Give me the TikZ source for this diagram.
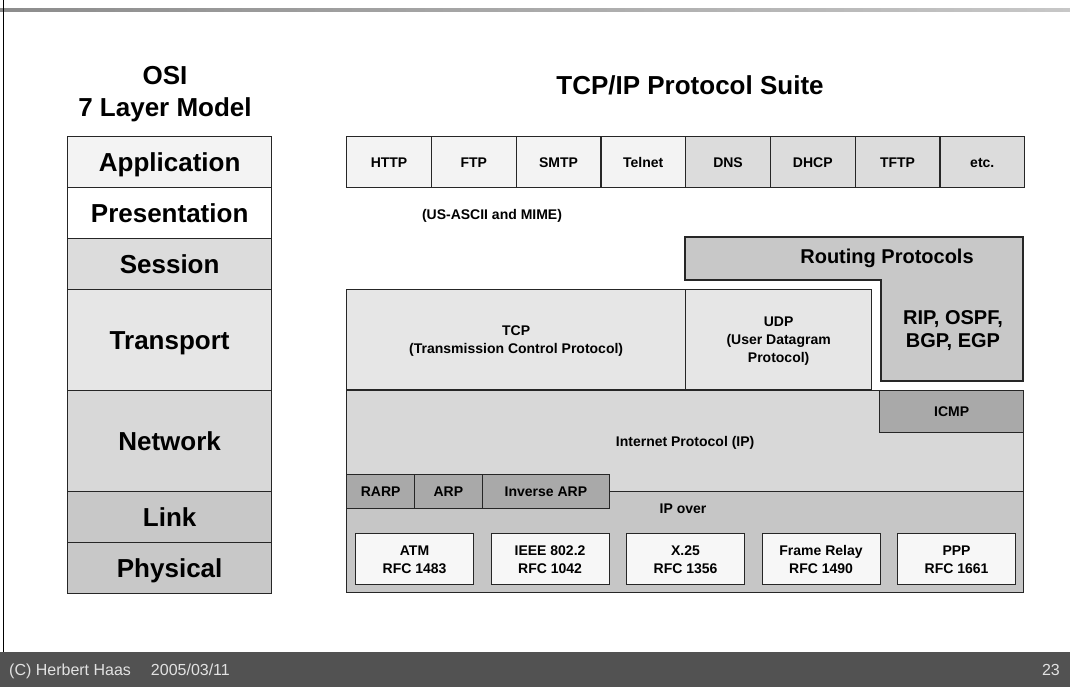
\documentclass[tikz,border=0pt]{standalone}
\usepackage{fontspec}
\setmainfont{Liberation Sans}
\definecolor{edge}{HTML}{262626}
\definecolor{fillA}{HTML}{F3F3F3}
\definecolor{fillS}{HTML}{DCDCDC}
\definecolor{fillT}{HTML}{E6E6E6}
\definecolor{fillN}{HTML}{D8D8D8}
\definecolor{fillL}{HTML}{C8C8C8}
\definecolor{fillR}{HTML}{C6C6C6}
\definecolor{fillD}{HTML}{A9A9A9}
\definecolor{fillW}{HTML}{F7F7F7}
\definecolor{band}{HTML}{525252}
\definecolor{bandtext}{HTML}{E2E2E2}
\newcommand\hdfont{\fontsize{26}{32}\selectfont\bfseries}
\newcommand\rtfont{\fontsize{20}{24}\selectfont\bfseries}
\newcommand\rpfont{\fontsize{20}{23}\selectfont\bfseries}
\newcommand\smfont{\fontsize{14}{18}\selectfont\bfseries}
\newcommand\ftfont{\fontsize{16}{19}\selectfont}
\tikzset{
  cell/.style={draw=edge, line width=1.3pt, inner sep=0pt, anchor=north west,
    align=center, font=\smfont, text height=10pt, text depth=0pt},
  twolines/.style={text height=28pt},
  threelines/.style={text height=46pt},
  layer/.style={cell, font=\hdfont, minimum width=204pt, text height=18.6pt},
  label/.style={inner sep=0pt, align=center, text depth=0pt},
  smalllabel/.style={label, font=\smfont, text height=10pt}
}
\begin{document}
\begin{tikzpicture}[x=1pt,y=-1pt]
\useasboundingbox (0,0) rectangle (1070,687);
\fill[white] (0,0) rectangle (1070,687);

% slide frame: top rule, left rule and footer band
\shade[left color=black!45, right color=black!22] (0,9) rectangle (1070,12);
\draw[line width=1pt, black] (3,0) -- (3,652);
\fill[band] (0,652) rectangle (1070,687);
\node[inner sep=0pt, anchor=base west, text=bandtext, font=\ftfont] (author) at (9,675)
  {(C) Herbert Haas\hspace{20pt}2005/03/11};
\node[inner sep=0pt, anchor=base east, text=bandtext, font=\ftfont] (page) at (1060,675) {23};

% headings
\node[label, font=\hdfont, text height=50.6pt] (osititle) at (165,91) {OSI\\7 Layer Model};
\node[label, font=\hdfont, text height=18.6pt] (tcptitle) at (690,85) {TCP/IP Protocol Suite};

% OSI layers
\node[layer, fill=fillA, minimum height=51pt]  (app)  at (67,136) {Application};
\node[layer, fill=white, minimum height=51pt]  (pres) at (67,187) {Presentation};
\node[layer, fill=fillS, minimum height=51pt]  (sess) at (67,238) {Session};
\node[layer, fill=fillT, minimum height=101pt] (trans) at (67,289) {Transport};
\node[layer, fill=fillN, minimum height=101pt] (net)  at (67,390) {Network};
\node[layer, fill=fillL, minimum height=51pt]  (link) at (67,491) {Link};
\node[layer, fill=fillL, minimum height=51pt]  (phys) at (67,542) {Physical};

% application protocols
\foreach \t [count=\i from 0] in {HTTP,FTP,SMTP,Telnet}
  \node[cell, fill=fillA, minimum width=84.75pt, minimum height=51pt]
    (ap\i) at (346+\i*84.75,136) {\t};
\foreach \t [count=\i from 4] in {DNS,DHCP,TFTP,etc.}
  \node[cell, fill=fillS, minimum width=84.75pt, minimum height=51pt]
    (ap\i) at (346+\i*84.75,136) {\t};
\node[smalllabel] (mime) at (492,214.5) {(US-ASCII and MIME)};

% routing protocols (L-shaped block)
\draw[edge, line width=1.3pt, fill=fillL]
  (685,237) -- (1023,237) -- (1023,381) -- (881,381) -- (881,280) -- (685,280) -- cycle;
\node[label, font=\rtfont, text height=14.3pt] (routing) at (887,256) {Routing Protocols};
\node[label, font=\rpfont, text height=37.3pt] (rip) at (953,329) {RIP, OSPF,\\BGP, EGP};

% transport protocols
\node[cell, twolines, fill=fillT, minimum width=339pt, minimum height=100pt] (tcp) at (346,289)
  {TCP\\(Transmission Control Protocol)};
\node[cell, threelines, fill=fillT, minimum width=186pt, minimum height=100pt] (udp) at (685,289)
  {UDP\\(User Datagram\\Protocol)};

% network layer
\node[cell, fill=fillN, minimum width=677pt, minimum height=101pt] (ip) at (346,390)
  {Internet Protocol (IP)};
\node[cell, fill=fillD, minimum width=144pt, minimum height=42pt] (icmp) at (879,390) {ICMP};

% link layer
\node[cell, fill=fillR, minimum width=677pt, minimum height=101pt] (ipover) at (346,491) {};
\node[smalllabel] (ipovertext) at (683,508) {IP over};
\node[cell, fill=fillD, minimum width=68pt, minimum height=34pt]  (rarp) at (346,474) {RARP};
\node[cell, fill=fillD, minimum width=67.5pt, minimum height=34pt] (arp) at (414,474) {ARP};
\node[cell, fill=fillD, minimum width=127.5pt, minimum height=34pt] (inarp) at (481.5,474) {Inverse ARP};

% IP-over carriers
\foreach \a/\b [count=\i from 0] in {ATM/1483, IEEE 802.2/1042, X.25/1356, Frame Relay/1490, PPP/1661}
  \node[cell, twolines, fill=fillW, line width=1.1pt, minimum width=118pt, minimum height=51pt]
    (lk\i) at (355+\i*135.5,533) {\a\\RFC \b};
\end{tikzpicture}
\end{document}
